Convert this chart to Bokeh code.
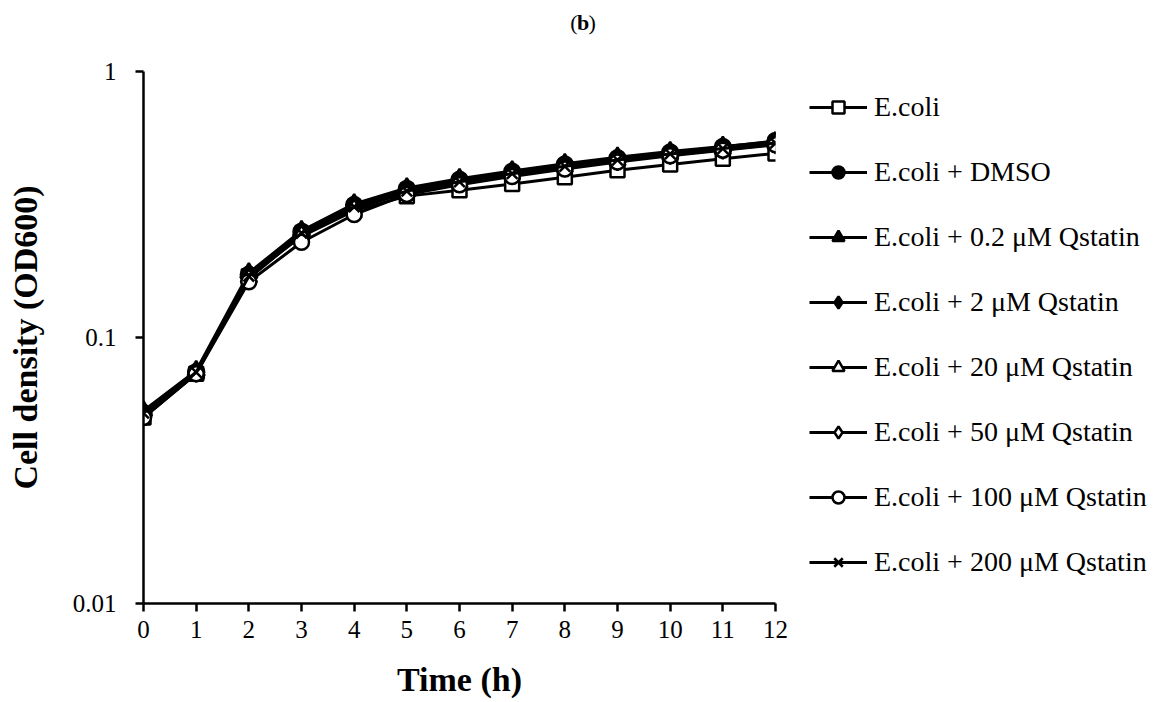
from bokeh.plotting import figure
from bokeh.layouts import column, row
from bokeh.models import Legend, LegendItem, FixedTicker, Label
from bokeh.embed import file_html
from bokeh.resources import INLINE

hours = [0, 1, 2, 3, 4, 5, 6, 7, 8, 9, 10, 11, 12]

ecoli      = [0.050, 0.073, 0.170, 0.240, 0.300, 0.340, 0.358, 0.378, 0.400, 0.425, 0.447, 0.470, 0.492]
ecoli_dmso = [0.052, 0.074, 0.172, 0.250, 0.315, 0.362, 0.392, 0.420, 0.447, 0.472, 0.496, 0.520, 0.548]
q_0_2      = [0.053, 0.075, 0.175, 0.252, 0.318, 0.365, 0.395, 0.423, 0.450, 0.476, 0.500, 0.523, 0.545]
q_2        = [0.051, 0.074, 0.170, 0.248, 0.312, 0.358, 0.388, 0.416, 0.443, 0.468, 0.492, 0.516, 0.540]
q_20       = [0.052, 0.073, 0.168, 0.245, 0.308, 0.352, 0.382, 0.410, 0.437, 0.462, 0.487, 0.510, 0.535]
q_50       = [0.051, 0.074, 0.167, 0.243, 0.305, 0.350, 0.380, 0.408, 0.435, 0.460, 0.485, 0.508, 0.532]
q_100      = [0.050, 0.073, 0.162, 0.228, 0.290, 0.345, 0.375, 0.403, 0.430, 0.457, 0.482, 0.506, 0.530]
q_200      = [0.052, 0.074, 0.170, 0.247, 0.310, 0.355, 0.385, 0.413, 0.440, 0.465, 0.490, 0.513, 0.538]

labels = ["E.coli", "E.coli + DMSO", "E.coli + 0.2 \u03bcM Qstatin", "E.coli + 2 \u03bcM Qstatin",
          "E.coli + 20 \u03bcM Qstatin", "E.coli + 50 \u03bcM Qstatin", "E.coli + 100 \u03bcM Qstatin",
          "E.coli + 200 \u03bcM Qstatin"]
series = [ecoli, ecoli_dmso, q_0_2, q_2, q_20, q_50, q_100, q_200]
markers = ["square", "circle", "triangle", "diamond", "triangle", "diamond", "circle", "x"]
fills = ["white", "black", "black", "black", "white", "white", "white", "black"]
sizes = [14, 16, 17, 19, 16, 18, 15, 15]

y_ticks = [0.01, 0.1, 1]
y_tick_labels = {0.01: "0.01", 0.1: "0.1", 1: "1"}

FONT = "Liberation Serif"

# layout geometry (pixels)
W, H = 1164, 702
STRIP = 56
LEFT, FRAME_W, PAD_T, PAD_R, FRAME_H, BOTTOM = 143, 632, 15, 15, 532, 99
MAIN_W = LEFT + FRAME_W + PAD_R
RIGHT_W = W - MAIN_W


def blank(fig):
    fig.outline_line_color = None
    fig.xgrid.grid_line_color = None
    fig.ygrid.grid_line_color = None
    fig.background_fill_color = "white"
    fig.border_fill_color = "white"


# ---- strip with the panel title "(b)" ----
top = figure(width=W, height=STRIP, x_range=(0, W), y_range=(0, STRIP),
             x_axis_location=None, y_axis_location=None,
             min_border=0, output_backend="svg", toolbar_location=None)
blank(top)
for txt, px, align, style in [("(", 577, "right", "normal"), ("b", 582.5, "center", "bold"),
                              (")", 588, "left", "normal")]:
    top.add_layout(Label(x=px, y=STRIP - 22, text=txt, text_align=align, text_baseline="middle",
                         text_font=FONT, text_font_size="22px", text_font_style=style,
                         text_color="black"))

# ---- main chart ----
p = figure(frame_width=FRAME_W, frame_height=FRAME_H, y_axis_type="log",
           x_range=(0, 12), y_range=(0.01, 1),
           min_border_left=LEFT, min_border_top=PAD_T, min_border_bottom=BOTTOM,
           min_border_right=PAD_R,
           output_backend="svg", toolbar_location=None)
blank(p)

for ys, mk, fc, sz in zip(series, markers, fills, sizes):
    p.line(hours, ys, line_color="black", line_width=3)
    p.scatter(hours, ys, marker=mk, size=sz, fill_color=fc, line_color="black", line_width=2.5)

for ax in (p.xaxis[0], p.yaxis[0]):
    ax.axis_line_width = 2.5
    ax.axis_line_color = "black"
    ax.major_tick_line_width = 2.5
    ax.major_tick_line_color = "black"
    ax.major_tick_in = 0
    ax.major_tick_out = 8
    ax.minor_tick_line_color = None
    ax.major_label_text_font = FONT
    ax.major_label_text_font_size = "25px"
    ax.major_label_text_color = "black"
    ax.axis_label_text_font = FONT
    ax.axis_label_text_font_style = "bold"
    ax.axis_label_text_font_size = "34px"
    ax.axis_label_text_color = "black"

p.xaxis.ticker = FixedTicker(ticks=hours)
p.xaxis.axis_label = "Time (h)"
p.xaxis.major_label_standoff = 9
p.xaxis.axis_label_standoff = 20

p.yaxis.ticker = FixedTicker(ticks=y_ticks)
p.yaxis.major_label_overrides = y_tick_labels
p.yaxis.axis_label = "Cell density (OD600)"
p.yaxis.major_label_standoff = 19
p.yaxis.axis_label_standoff = 26

# ---- legend panel (frame aligned with the chart frame; its renderers sit outside its range) ----
lg = figure(frame_width=RIGHT_W, frame_height=FRAME_H, y_axis_type="log",
            x_range=(100, 112), y_range=(0.01, 1),
            x_axis_location=None, y_axis_location=None,
            min_border_left=0, min_border_top=PAD_T, min_border_right=0, min_border_bottom=BOTTOM,
            output_backend="svg", toolbar_location=None)
blank(lg)
items = []
for lab, ys, mk, fc, sz in zip(labels, series, markers, fills, sizes):
    ln = lg.line(hours, ys, line_color="black", line_width=3)
    sc = lg.scatter(hours, ys, marker=mk, size=sz, fill_color=fc, line_color="black", line_width=2.5)
    items.append(LegendItem(label=lab, renderers=[ln, sc]))

legend = Legend(items=items, location=(19, 25), glyph_width=58, glyph_height=30,
                label_height=30, spacing=33, label_standoff=7, padding=8, margin=0,
                border_line_color=None, background_fill_alpha=0,
                label_text_font=FONT, label_text_font_size="28px", label_text_color="black")
lg.add_layout(legend)

layout = column(top, row(p, lg, spacing=0), spacing=0)

open("out.html", "w").write(file_html(layout, INLINE))
